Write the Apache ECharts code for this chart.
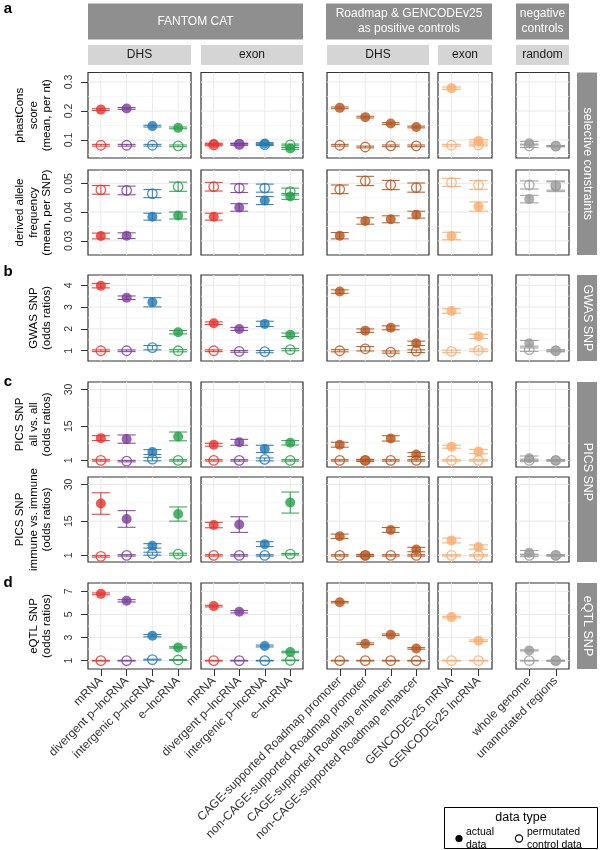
<!DOCTYPE html>
<html><head><meta charset="utf-8">
<script src="https://cdn.jsdelivr.net/npm/echarts@6/dist/echarts.min.js"></script>
<style>html,body{margin:0;padding:0;background:#fff}#c{width:600px;height:850px}</style>
</head><body><div id="c"></div>
<script>
// ---------- categories ----------
const catsFantom = ['mRNA', 'divergent p\u2013lncRNA', 'intergenic p\u2013lncRNA', 'e\u2013lncRNA'];
const catsRoadmap = ['CAGE-supported Roadmap promoter', 'non-CAGE-supported Roadmap promoter', 'CAGE-supported Roadmap enhancer', 'non-CAGE-supported Roadmap enhancer'];
const catsGencode = ['GENCODEv25 mRNA', 'GENCODEv25 lncRNA'];
const catsRandom = ['whole genome', 'unannotated regions'];
const panelHeaders = ['DHS', 'exon', 'DHS', 'exon', 'random'];
const groupHeaders = ['FANTOM CAT', 'Roadmap & GENCODEv25\nas positive controls', 'negative\ncontrols'];
const stripLabels = ['selective constraints', 'GWAS SNP', 'PICS SNP', 'eQTL SNP'];
const rowTitles = ['phastCons\nscore\n(mean, per nt)', 'derived allele\nfrequency\n(mean, per SNP)', 'GWAS SNP\n(odds ratios)', 'PICS SNP\nall vs. all\n(odds ratios)', 'PICS SNP\nimmune vs. immune\n(odds ratios)', 'eQTL SNP\n(odds ratios)'];

// ---------- tick labels ----------
const ticksPhast = [0.1, 0.2, 0.3];
const ticksDaf = [0.03, 0.04, 0.05];
const ticksGwas = [1, 2, 3, 4];
const ticksPics = [1, 15, 30];
const ticksEqtl = [1, 3, 5, 7];

// ---------- values (16 categories: FANTOM DHS x4, FANTOM exon x4, Roadmap DHS x4, GENCODE exon x2, random x2) ----------
const phastActual     = [0.205, 0.209, 0.148, 0.142, 0.086, 0.086, 0.088, 0.071, 0.211, 0.179, 0.157, 0.145, 0.279, 0.097, 0.089, 0.079];
const phastActualErr  = [0.003, 0.003, 0.003, 0.003, 0.003, 0.003, 0.003, 0.003, 0.003, 0.003, 0.003, 0.003, 0.004, 0.004, 0.006, 0.002];
const phastControl    = [0.082, 0.082, 0.082, 0.080, 0.083, 0.085, 0.084, 0.083, 0.082, 0.076, 0.080, 0.080, 0.082, 0.083, 0.080, 0.079];
const phastControlErr = [0.003, 0.003, 0.003, 0.003, 0.003, 0.003, 0.003, 0.003, 0.003, 0.003, 0.003, 0.003, 0.003, 0.003, 0.006, 0.002];

const dafActual     = [0.0317, 0.0318, 0.0384, 0.0388, 0.0384, 0.0416, 0.0440, 0.0454, 0.0318, 0.0369, 0.0375, 0.0391, 0.0317, 0.0419, 0.0445, 0.0488];
const dafActualErr  = [0.0010, 0.0010, 0.0012, 0.0012, 0.0012, 0.0013, 0.0014, 0.0010, 0.0011, 0.0011, 0.0012, 0.0012, 0.0013, 0.0016, 0.0013, 0.0017];
const dafControl    = [0.0477, 0.0475, 0.0464, 0.0488, 0.0488, 0.0483, 0.0483, 0.0471, 0.0479, 0.0508, 0.0494, 0.0485, 0.0503, 0.0494, 0.0494, 0.0492];
const dafControlErr = [0.0015, 0.0015, 0.0014, 0.0016, 0.0015, 0.0015, 0.0014, 0.0012, 0.0015, 0.0016, 0.0016, 0.0016, 0.0014, 0.0015, 0.0014, 0.0016];

const gwasActual     = [3.98, 3.43, 3.22, 1.85, 2.26, 2.00, 2.23, 1.73, 3.71, 1.92, 2.05, 1.34, 2.82, 1.66, 1.34, 1.00];
const gwasActualErr  = [0.10, 0.08, 0.21, 0.08, 0.06, 0.07, 0.12, 0.08, 0.08, 0.08, 0.09, 0.10, 0.10, 0.10, 0.13, 0.05];
const gwasControl    = [1.00, 1.00, 1.14, 1.00, 1.00, 0.97, 0.96, 1.05, 1.00, 1.09, 0.94, 0.98, 0.97, 1.02, 1.05, 1.00];
const gwasControlErr = [0.04, 0.04, 0.10, 0.05, 0.04, 0.04, 0.05, 0.05, 0.05, 0.10, 0.05, 0.06, 0.06, 0.06, 0.08, 0.03];

const picsAllActual     = [10.1, 9.7, 4.4, 10.8, 7.4, 8.4, 5.7, 8.2, 7.4, 1.0, 10.0, 3.4, 6.6, 4.6, 1.9, 1.0];
const picsAllActualErr  = [1.0, 1.7, 1.0, 1.8, 0.6, 1.2, 1.5, 0.9, 1.0, 0.4, 1.1, 0.8, 0.6, 0.9, 0.9, 0.3];
const picsAllControl    = [1.0, 0.7, 1.5, 1.0, 1.0, 1.0, 1.4, 1.0, 1.0, 1.0, 1.0, 1.0, 1.0, 1.0, 1.0, 1.0];
const picsAllControlErr = [0.3, 0.3, 0.7, 0.3, 0.3, 0.3, 0.6, 0.3, 0.3, 0.3, 0.3, 0.3, 0.3, 0.3, 0.5, 0.2];

const picsImmActual     = [22.2, 15.9, 4.9, 17.9, 13.4, 13.6, 5.6, 22.6, 8.8, 1.0, 11.4, 3.4, 7.1, 4.4, 2.1, 1.0];
const picsImmActualErr  = [4.4, 3.4, 0.9, 2.9, 1.1, 3.2, 1.0, 4.3, 0.9, 0.4, 1.0, 0.9, 1.0, 0.9, 0.9, 0.3];
const picsImmControl    = [0.6, 1.0, 1.7, 1.5, 1.0, 1.0, 1.0, 1.5, 1.0, 1.0, 1.0, 1.0, 1.0, 1.0, 1.0, 1.0];
const picsImmControlErr = [0.3, 0.3, 0.6, 0.4, 0.3, 0.3, 0.3, 0.3, 0.3, 0.3, 0.3, 0.3, 0.3, 0.3, 0.5, 0.2];

const eqtlActual     = [6.78, 6.18, 3.16, 2.15, 5.72, 5.23, 2.27, 1.75, 6.06, 2.47, 3.24, 2.06, 4.77, 2.73, 1.89, 1.00];
const eqtlActualErr  = [0.08, 0.10, 0.10, 0.06, 0.07, 0.10, 0.08, 0.06, 0.06, 0.07, 0.07, 0.07, 0.07, 0.07, 0.05, 0.03];
const eqtlControl    = [1.00, 1.00, 1.09, 1.06, 1.00, 1.00, 1.00, 1.03, 1.00, 1.00, 1.00, 1.00, 1.00, 1.00, 1.00, 1.00];
const eqtlControlErr = [0.03, 0.03, 0.04, 0.04, 0.03, 0.03, 0.03, 0.03, 0.03, 0.03, 0.03, 0.03, 0.03, 0.03, 0.03, 0.03];

// ---------- styles / layout ----------
const RED = '#e8302a', PURPLE = '#7b3c9b', BLUE = '#1f78b4', GREEN = '#22a047', BROWN = '#b5541b', LORANGE = '#fbab6a', GREY = '#9a9a9a';
const catColors = [RED, PURPLE, BLUE, GREEN, RED, PURPLE, BLUE, GREEN, BROWN, BROWN, BROWN, BROWN, LORANGE, LORANGE, GREY, GREY];
const panelCats = [catsFantom, catsFantom, catsRoadmap, catsGencode, catsRandom];
const panelStart = [0, 4, 8, 12, 14];
const colX = [[88, 191], [201, 303], [327, 429], [438, 492], [516, 569]];
const rowY = [[72.5, 158], [170, 255], [275, 361], [382, 467], [477, 562], [583, 669]];
const FONT = '"Liberation Sans", Arial, Helvetica, sans-serif';

const rows = [
  {act: phastActual, actErr: phastActualErr, ctl: phastControl, ctlErr: phastControlErr, min: 0.038, max: 0.333, ticks: ticksPhast, minor: [0.05, 0.15, 0.25], fmt: v => v.toFixed(1)},
  {act: dafActual, actErr: dafActualErr, ctl: dafControl, ctlErr: dafControlErr, min: 0.0251, max: 0.0546, ticks: ticksDaf, minor: [0.035, 0.045], fmt: v => v.toFixed(2)},
  {act: gwasActual, actErr: gwasActualErr, ctl: gwasControl, ctlErr: gwasControlErr, min: 0.53, max: 4.47, ticks: ticksGwas, minor: [1.5, 2.5, 3.5], fmt: v => String(v)},
  {act: picsAllActual, actErr: picsAllActualErr, ctl: picsAllControl, ctlErr: picsAllControlErr, min: -1.7, max: 33.05, ticks: ticksPics, minor: [8, 22.5], fmt: v => String(v)},
  {act: picsImmActual, actErr: picsImmActualErr, ctl: picsImmControl, ctlErr: picsImmControlErr, min: -1.7, max: 33.05, ticks: ticksPics, minor: [8, 22.5], fmt: v => String(v)},
  {act: eqtlActual, actErr: eqtlActualErr, ctl: eqtlControl, ctlErr: eqtlControlErr, min: 0.28, max: 7.72, ticks: ticksEqtl, minor: [2, 4, 6], fmt: v => String(v)}
];

function gridRender(params, api) {
  const cs = params.coordSys;
  const kind = api.value(2);
  if (kind === 2) {
    const x = api.coord([api.value(0), api.value(1)])[0];
    return {type: 'line', shape: {x1: x, y1: cs.y, x2: x, y2: cs.y + cs.height}, style: {stroke: '#ebebeb', lineWidth: 1}};
  }
  const y = api.coord([0, api.value(1)])[1];
  return {type: 'line', shape: {x1: cs.x, y1: y, x2: cs.x + cs.width, y2: y},
    style: {stroke: kind === 0 ? '#e8e8e8' : '#f3f3f3', lineWidth: kind === 0 ? 1 : 0.7}};
}
function errRender(params, api) {
  const x = api.value(0);
  const p1 = api.coord([x, api.value(1)]);
  const p2 = api.coord([x, api.value(2)]);
  const half = api.size([1, 0])[0] * 0.35;
  const color = api.visual('color');
  const st = {stroke: color, lineWidth: 1.1, opacity: 0.9};
  return {type: 'group', children: [
    {type: 'line', shape: {x1: p1[0], y1: p1[1], x2: p2[0], y2: p2[1]}, style: st},
    {type: 'line', shape: {x1: p1[0] - half, y1: p1[1], x2: p1[0] + half, y2: p1[1]}, style: st},
    {type: 'line', shape: {x1: p2[0] - half, y1: p2[1], x2: p2[0] + half, y2: p2[1]}, style: st}
  ]};
}

const grids = [], xAxes = [], yAxes = [], series = [];
rows.forEach((row, r) => {
  colX.forEach((cx, c) => {
    const gi = r * 5 + c;
    const cats = panelCats[c];
    grids.push({left: cx[0], top: rowY[r][0], width: cx[1] - cx[0], height: rowY[r][1] - rowY[r][0],
      show: true, borderColor: '#333', borderWidth: 1.2, backgroundColor: '#fff', containLabel: false});
    xAxes.push({type: 'category', gridIndex: gi, data: cats, boundaryGap: true,
      axisLine: {show: false},
      axisTick: {show: r === 5, alignWithLabel: true, interval: 0, length: 7, lineStyle: {color: '#333', width: 1}},
      axisLabel: {show: r === 5, rotate: 45, interval: 0, fontSize: 12, color: '#333', margin: 10, fontFamily: FONT},
      splitLine: {show: false}});
    yAxes.push({type: 'value', gridIndex: gi, min: row.min, max: row.max,
      axisLine: {show: false}, splitLine: {show: false},
      axisTick: {show: c === 0, customValues: row.ticks, length: 7, lineStyle: {color: '#333', width: 1}},
      axisLabel: {show: c === 0, customValues: row.ticks, rotate: 90, fontSize: 10.5, color: '#333', margin: 13, fontFamily: FONT, formatter: row.fmt},
      name: c === 0 ? rowTitles[r] : '', nameLocation: 'middle', nameRotate: 90, nameGap: 34,
      nameTextStyle: {fontSize: 11.5, lineHeight: 13.5, color: '#000', fontFamily: FONT}});
    // gridlines
    const gl = [];
    row.ticks.forEach(v => gl.push([0, v, 0]));
    row.minor.forEach(v => gl.push([0, v, 1]));
    cats.forEach((n, i) => gl.push([i, row.min, 2]));
    series.push({type: 'custom', xAxisIndex: gi, yAxisIndex: gi, renderItem: gridRender, data: gl, z: 1, silent: true, clip: true});
    // error bars
    const eb = [];
    cats.forEach((n, i) => {
      const k = panelStart[c] + i;
      eb.push({value: [i, row.ctl[k] - row.ctlErr[k], row.ctl[k] + row.ctlErr[k]], itemStyle: {color: catColors[k]}});
      eb.push({value: [i, row.act[k] - row.actErr[k], row.act[k] + row.actErr[k]], itemStyle: {color: catColors[k]}});
    });
    series.push({type: 'custom', xAxisIndex: gi, yAxisIndex: gi, renderItem: errRender, data: eb, z: 2, silent: true});
    // control (open) points
    series.push({type: 'scatter', xAxisIndex: gi, yAxisIndex: gi, symbol: 'circle', symbolSize: 9.5, z: 3, silent: true,
      data: cats.map((n, i) => { const k = panelStart[c] + i; return {value: [i, row.ctl[k]], itemStyle: {color: 'rgba(0,0,0,0)', borderColor: catColors[k], borderWidth: 1.3}}; })});
    // actual (filled) points
    series.push({type: 'scatter', xAxisIndex: gi, yAxisIndex: gi, symbol: 'circle', symbolSize: 10, z: 4, silent: true,
      data: cats.map((n, i) => { const k = panelStart[c] + i; return {value: [i, row.act[k]], itemStyle: {color: catColors[k]}}; })});
  });
});

// ---------- strips, letters, legend ----------
const DARK = '#8f8f8f', LIGHT = '#d5d5d5';
const graphic = [];
function rect(x0, y0, x1, y1, fill) { graphic.push({type: 'rect', shape: {x: x0, y: y0, width: x1 - x0, height: y1 - y0}, style: {fill: fill}, silent: true}); }
function text(t, x, y, opts) {
  graphic.push(Object.assign({type: 'text', x: x, y: y, silent: true,
    style: Object.assign({text: t, fill: '#000', fontSize: 12, fontFamily: FONT, align: 'center', verticalAlign: 'middle', lineHeight: 14}, opts && opts.style || {})},
    opts && opts.rotation !== undefined ? {rotation: opts.rotation} : {}));
}
const groupSpans = [[88, 303], [326, 492], [516, 569]];
groupSpans.forEach((s, i) => { rect(s[0], 3.5, s[1], 39.5, DARK); text(groupHeaders[i], (s[0] + s[1]) / 2, 21.5, {style: {fill: '#fff', fontSize: 12, lineHeight: 15}}); });
colX.forEach((s, i) => { rect(s[0], 45, s[1], 65, LIGHT); text(panelHeaders[i], (s[0] + s[1]) / 2, 55, {style: {fill: '#1a1a1a', fontSize: 12}}); });
const stripSpans = [[rowY[0][0], rowY[1][1]], [rowY[2][0], rowY[2][1]], [rowY[3][0], rowY[4][1]], [rowY[5][0], rowY[5][1]]];
stripSpans.forEach((s, i) => { rect(577, s[0], 597, s[1], DARK); text(stripLabels[i], 587, (s[0] + s[1]) / 2, {rotation: -Math.PI / 2, style: {fill: '#fff', fontSize: 12.5}}); });
[['a', 9], ['b', 272], ['c', 382], ['d', 583]].forEach(p => text(p[0], 8, p[1], {style: {fontSize: 15, fontWeight: 'bold'}}));
// legend
graphic.push({type: 'rect', shape: {x: 444.5, y: 807.5, width: 153, height: 41}, style: {fill: '#fff', stroke: '#000', lineWidth: 1}, silent: true});
text('data type', 521, 818, {style: {fontSize: 12.5}});
graphic.push({type: 'circle', shape: {cx: 459, cy: 838.5, r: 3.6}, style: {fill: '#000'}, silent: true});
text('actual\ndata', 466, 838.5, {style: {fontSize: 10.5, lineHeight: 12.5, align: 'left'}});
graphic.push({type: 'circle', shape: {cx: 519, cy: 838.5, r: 3.6}, style: {fill: 'none', stroke: '#000', lineWidth: 1.1}, silent: true});
text('permutated\ncontrol data', 527, 838.5, {style: {fontSize: 10.5, lineHeight: 12.5, align: 'left'}});

const chart = echarts.init(document.getElementById('c'), null, {renderer: 'canvas'});
chart.setOption({
  animation: false,
  textStyle: {fontFamily: FONT},
  grid: grids, xAxis: xAxes, yAxis: yAxes, series: series, graphic: graphic
});
</script></body></html>
